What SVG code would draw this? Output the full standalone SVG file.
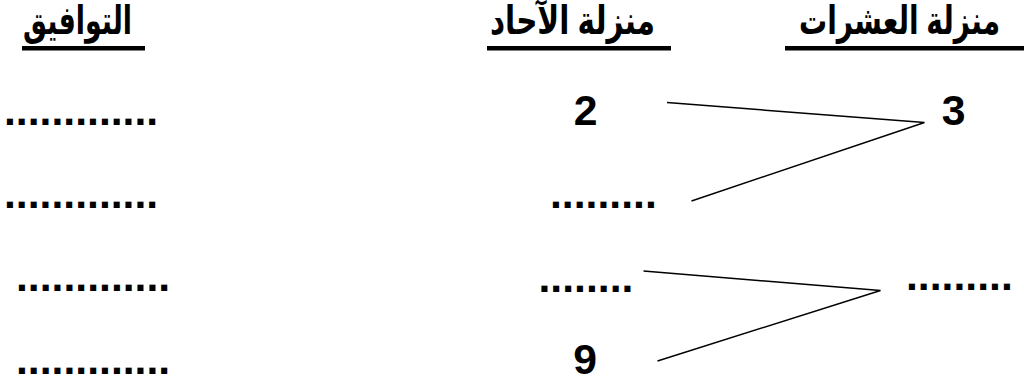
<svg xmlns="http://www.w3.org/2000/svg" width="1024" height="379" viewBox="0 0 1024 379">
  <style>
    .hdr { font-family: "Liberation Sans", "DejaVu Sans", sans-serif; font-weight: bold; font-size: 39px; fill: #000; }
    .num { font-family: "Liberation Sans", Arial, sans-serif; font-weight: bold; font-size: 42.7px; fill: #000; text-anchor: middle; }
    .dots { font-family: "Liberation Sans", Arial, sans-serif; font-weight: bold; font-size: 42.7px; fill: #000; }
    .ul { fill: #000; }
    .conn { stroke: #000; stroke-width: 1.5; fill: none; stroke-linejoin: miter; }
  </style>
  <rect width="1024" height="379" fill="#fff"/>

  <g id="header-combinations">
    <text class="hdr" x="23" y="34" textLength="109" lengthAdjust="spacingAndGlyphs">التوافيق</text>
    <rect class="ul" x="22" y="46" width="123" height="4.5"/>
  </g>
  <g id="header-units">
    <text class="hdr" x="490" y="34" textLength="165" lengthAdjust="spacingAndGlyphs">منزلة الآحاد</text>
    <rect class="ul" x="487" y="46" width="184" height="4.5"/>
  </g>
  <g id="header-tens">
    <text class="hdr" x="799" y="34" textLength="201" lengthAdjust="spacingAndGlyphs">منزلة العشرات</text>
    <rect class="ul" x="785" y="46" width="239" height="4.5"/>
  </g>

  <g id="left-1"><text class="dots" x="4" y="125">.............</text></g>
  <g id="left-2"><text class="dots" x="4" y="208">.............</text></g>
  <g id="left-3"><text class="dots" x="16" y="291">.............</text></g>
  <g id="left-4"><text class="dots" x="16" y="374">.............</text></g>

  <g id="units-2"><text class="num" x="585.5" y="125">2</text></g>
  <g id="units-blank1"><text class="dots" x="550" y="207.5">.........</text></g>
  <g id="units-blank2"><text class="dots" x="538.5" y="291.5">........</text></g>
  <g id="units-9"><text class="num" x="585" y="374">9</text></g>

  <g id="tens-3"><text class="num" x="953.5" y="125">3</text></g>
  <g id="tens-blank"><text class="dots" x="906" y="289.5">.........</text></g>

  <g id="connectors">
    <polyline class="conn" points="667,102.5 924.5,122.5 691.5,201"/>
    <polyline class="conn" points="643.5,271 880.5,290.5 657.5,361"/>
  </g>
</svg>
